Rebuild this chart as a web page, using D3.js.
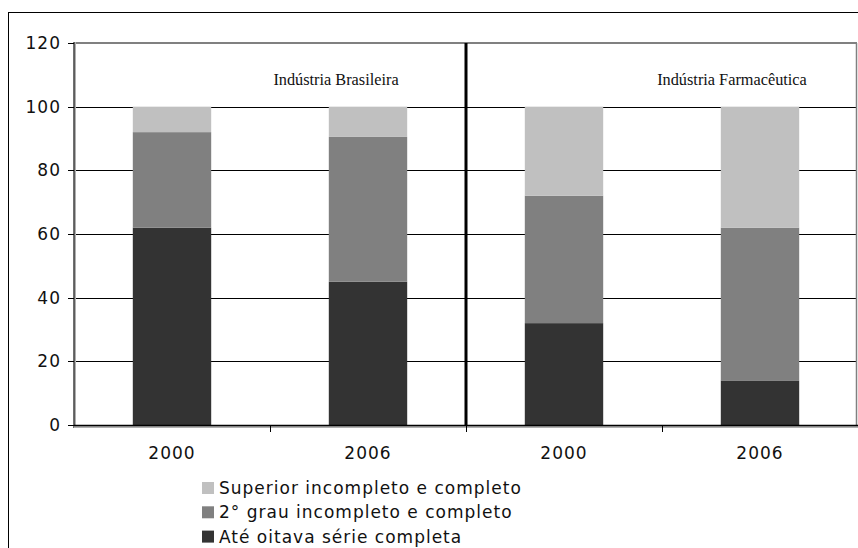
<!DOCTYPE html>
<html>
<head>
<meta charset="utf-8">
<script src="https://cdn.jsdelivr.net/npm/d3@7"></script>
<style>
  html, body { margin: 0; padding: 0; background: #fff; }
  svg { display: block; }
</style>
</head>
<body>
<svg id="chart" width="858" height="548"></svg>
<script>
const categories = ["B2000", "B2006", "F2000", "F2006"];
const categoryLabels = ["2000", "2006", "2000", "2006"];
const seriesNames = [
  "Até oitava série completa",
  "2° grau incompleto e completo",
  "Superior incompleto e completo",
];
const ateOitava = [62, 45, 32, 14];
const segundoGrau = [30, 45.5, 40, 48];
const superior = [8, 9.5, 28, 38];
const yTicks = [0, 20, 40, 60, 80, 100, 120];
const panelLabels = ["Indústria Brasileira", "Indústria Farmacêutica"];

const colors = ["#333333", "#808080", "#c0c0c0"];

const svg = d3.select("#chart");
const m = { left: 74, right: 0, top: 43, bottom: 123 };
const w = 858, h = 548;

const rows = categories.map((c, i) => ({
  cat: c,
  s0: ateOitava[i],
  s1: segundoGrau[i],
  s2: superior[i],
}));

const x = d3.scaleBand()
  .domain(categories)
  .range([m.left, w - m.right])
  .paddingInner(0.6)
  .paddingOuter(0.3);

const y = d3.scaleLinear()
  .domain([0, 120])
  .range([h - m.bottom, m.top]);

const sans = "DejaVu Sans, Verdana, sans-serif";

// outer frame
svg.append("rect")
  .attr("x", 8.5).attr("y", 12.5)
  .attr("width", 900).attr("height", 600)
  .attr("fill", "none").attr("stroke", "#000").attr("stroke-width", 1);

// gridlines
svg.append("g")
  .selectAll("line")
  .data(yTicks.filter(t => t > 0 && t < 120))
  .join("line")
  .attr("x1", m.left).attr("x2", w - 2)
  .attr("y1", d => Math.round(y(d)) + 0.5)
  .attr("y2", d => Math.round(y(d)) + 0.5)
  .attr("stroke", "#000").attr("stroke-width", 1);

// stacked bars
const stack = d3.stack().keys(["s0", "s1", "s2"]);
const layers = stack(rows);

svg.append("g")
  .selectAll("g")
  .data(layers)
  .join("g")
  .attr("fill", (d, i) => colors[i])
  .selectAll("rect")
  .data(d => d)
  .join("rect")
  .attr("x", d => x(d.data.cat))
  .attr("width", x.bandwidth())
  .attr("y", d => y(d[1]))
  .attr("height", d => y(d[0]) - y(d[1]));

// plot area top and right border
svg.append("line")
  .attr("x1", m.left).attr("x2", w - 1)
  .attr("y1", y(120)).attr("y2", y(120))
  .attr("stroke", "#808080").attr("stroke-width", 2);
svg.append("line")
  .attr("x1", w - 1.5).attr("x2", w - 1.5)
  .attr("y1", y(120)).attr("y2", y(0))
  .attr("stroke", "#808080").attr("stroke-width", 1.5);

// divider between panels
const divX = x(categories[2]) - x.step() * x.paddingInner() / 2;
svg.append("line")
  .attr("x1", divX).attr("x2", divX)
  .attr("y1", y(120)).attr("y2", y(0))
  .attr("stroke", "#000").attr("stroke-width", 3);

// left axis
svg.append("line")
  .attr("x1", m.left + 1).attr("x2", m.left + 1)
  .attr("y1", y(120) - 1).attr("y2", y(0) + 3)
  .attr("stroke", "#b0b0b0").attr("stroke-width", 2);
svg.append("line")
  .attr("x1", m.left).attr("x2", m.left)
  .attr("y1", y(120) - 1).attr("y2", y(0) + 3)
  .attr("stroke", "#404040").attr("stroke-width", 1.5);

svg.append("g")
  .selectAll("line")
  .data(yTicks)
  .join("line")
  .attr("x1", m.left - 6).attr("x2", m.left)
  .attr("y1", d => Math.round(y(d)) + 0.5)
  .attr("y2", d => Math.round(y(d)) + 0.5)
  .attr("stroke", "#000");

svg.append("g")
  .selectAll("text")
  .data(yTicks)
  .join("text")
  .attr("x", m.left - 13)
  .attr("y", d => y(d))
  .attr("dy", "0.36em")
  .attr("text-anchor", "end")
  .attr("font-family", sans)
  .attr("font-size", 17)
  .attr("letter-spacing", 1)
  .attr("fill", "#111")
  .text(d => d);

// bottom axis
svg.append("line")
  .attr("x1", m.left).attr("x2", w)
  .attr("y1", y(0) + 2).attr("y2", y(0) + 2)
  .attr("stroke", "#b0b0b0").attr("stroke-width", 2);
svg.append("line")
  .attr("x1", m.left).attr("x2", w)
  .attr("y1", y(0) + 0.5).attr("y2", y(0) + 0.5)
  .attr("stroke", "#000").attr("stroke-width", 1.5);

const boundaries = categories.slice(1).map(c => x(c) - x.step() * x.paddingInner() / 2);
svg.append("g")
  .selectAll("line")
  .data(boundaries)
  .join("line")
  .attr("x1", d => Math.round(d) + 0.5).attr("x2", d => Math.round(d) + 0.5)
  .attr("y1", y(0)).attr("y2", y(0) + 7)
  .attr("stroke", "#000");

svg.append("g")
  .selectAll("text")
  .data(categories)
  .join("text")
  .attr("x", d => x(d) + x.bandwidth() / 2)
  .attr("y", y(0) + 34)
  .attr("text-anchor", "middle")
  .attr("font-family", sans)
  .attr("font-size", 17)
  .attr("letter-spacing", 1)
  .attr("fill", "#111")
  .text((d, i) => categoryLabels[i]);

// panel labels
[categories[1], categories[3]].forEach((c, i) => {
  svg.append("text")
    .attr("x", x(c) + x.bandwidth() / 2 + (i === 0 ? -32 : -28))
    .attr("y", 85)
    .attr("text-anchor", "middle")
    .attr("font-family", "Liberation Serif, Times New Roman, serif")
    .attr("font-size", 16.3)
    .attr("fill", "#111")
    .text(panelLabels[i]);
});

// legend
const legendOrder = [2, 1, 0];
const lg = svg.append("g").attr("transform", "translate(202, 482)");
legendOrder.forEach((k, i) => {
  const g = lg.append("g").attr("transform", `translate(0, ${i * 24.3})`);
  g.append("rect")
    .attr("width", 12).attr("height", 12)
    .attr("fill", colors[k]);
  g.append("text")
    .attr("x", 17)
    .attr("y", 6)
    .attr("dy", "0.36em")
    .attr("font-family", sans)
    .attr("font-size", 17)
    .attr("letter-spacing", 1)
    .attr("fill", "#111")
    .text(seriesNames[k]);
});
</script>
</body>
</html>
